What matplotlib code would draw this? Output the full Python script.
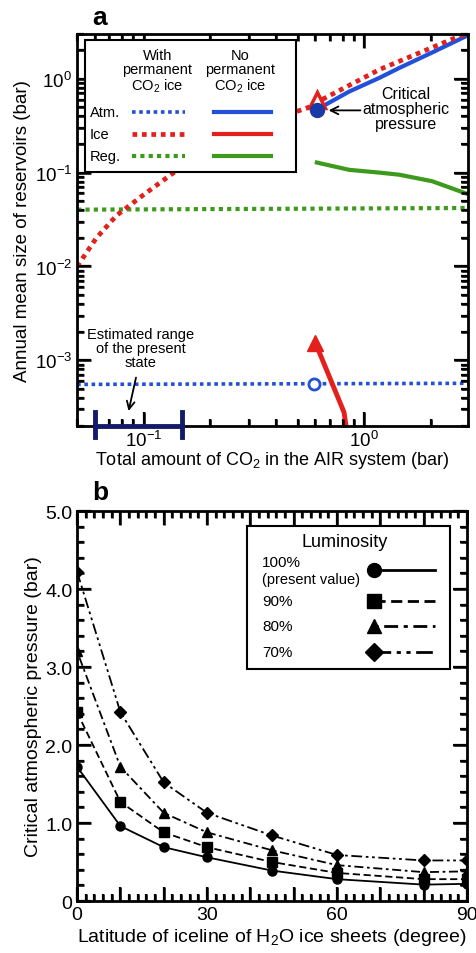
import matplotlib
matplotlib.use('Agg')
import matplotlib.pyplot as plt
from matplotlib.patches import Rectangle
from matplotlib.ticker import LogLocator, MultipleLocator, NullFormatter
import matplotlib.transforms as mtransforms

plt.rcParams['font.family'] = ['Liberation Sans', 'DejaVu Sans']
plt.rcParams['mathtext.fontset'] = 'custom'
plt.rcParams['mathtext.rm'] = 'Liberation Sans'
plt.rcParams['mathtext.it'] = 'Liberation Sans:italic'
plt.rcParams['mathtext.bf'] = 'Liberation Sans:bold'

# ---- panel a data (bar) ----
# with permanent CO2 ice
total_perm = [0.05, 3.0]
atm_perm = [5.55e-4, 5.7e-4]
reg_perm = [0.0403, 0.042]
total_ice = [0.05, 0.061, 0.0755, 0.1, 0.141, 0.237, 0.399, 0.565, 0.6, 1.17, 2.95]
ice_perm = [0.010, 0.020, 0.035, 0.058, 0.105, 0.209, 0.374, 0.50, 0.55, 1.25, 3.1]
# no permanent CO2 ice
total_noperm = [0.61, 0.855, 1.17, 1.44, 2.03, 2.95]
atm_noperm = [0.47, 0.73, 1.02, 1.30, 1.90, 2.90]
reg_noperm = [0.128, 0.107, 0.100, 0.095, 0.081, 0.059]
total_icefree = [0.6, 0.81, 0.83]
ice_noperm = [1.55e-3, 2.8e-4, 1.9e-4]
# critical point markers
crit_total = 0.61
crit_atm = 0.47
crit_ice = 0.60
present_atm_total = 0.59
present_atm = 5.6e-4
present_range = [0.06, 0.15]

# ---- panel b data ----
latitude = [0, 10, 20, 30, 45, 60, 80, 90]
p_100 = [1.72, 0.96, 0.69, 0.56, 0.39, 0.28, 0.21, 0.22]
p_90 = [2.42, 1.27, 0.88, 0.69, 0.50, 0.36, 0.28, 0.28]
p_80 = [3.20, 1.72, 1.13, 0.88, 0.65, 0.46, 0.37, 0.38]
p_70 = [4.22, 2.42, 1.52, 1.13, 0.84, 0.59, 0.52, 0.52]

blue = '#2350d8'
red = '#e3201b'
green = '#3d9a1c'
navy = '#141a6a'

fig = plt.figure(figsize=(4.76, 9.54), dpi=100)


def inside_ticks(axx, major=10, minor=5, lw=1.8):
    # tick marks on all four sides, at the positions given by the axis locators
    fig_w, fig_h = fig.get_size_inches()
    pos = axx.get_position()
    fx = 72.0 * fig_w * pos.width
    fy = 72.0 * fig_h * pos.height
    x0, x1 = sorted(axx.get_xlim())
    y0, y1 = sorted(axx.get_ylim())
    tx = mtransforms.blended_transform_factory(axx.transData, axx.transAxes)
    ty = mtransforms.blended_transform_factory(axx.transAxes, axx.transData)
    for locs, ln in ((axx.xaxis.get_majorticklocs(), major), (axx.xaxis.get_minorticklocs(), minor)):
        for v in locs:
            if x0 <= v <= x1:
                axx.plot([v, v], [0, ln / fy], transform=tx, color='black', lw=lw,
                         solid_capstyle='butt', clip_on=False, zorder=7)
                axx.plot([v, v], [1, 1 - ln / fy], transform=tx, color='black', lw=lw,
                         solid_capstyle='butt', clip_on=False, zorder=7)
    for locs, ln in ((axx.yaxis.get_majorticklocs(), major), (axx.yaxis.get_minorticklocs(), minor)):
        for v in locs:
            if y0 <= v <= y1:
                axx.plot([0, ln / fx], [v, v], transform=ty, color='black', lw=lw,
                         solid_capstyle='butt', clip_on=False, zorder=7)
                axx.plot([1, 1 - ln / fx], [v, v], transform=ty, color='black', lw=lw,
                         solid_capstyle='butt', clip_on=False, zorder=7)
    axx.set_xlim(x0, x1)
    axx.set_ylim(y0, y1)


# ================= panel a =================
ax = fig.add_axes([0.162, 0.5524, 0.821, 0.411])
ax.set_xscale('log')
ax.set_yscale('log')

dot = (0, (1, 1))
ax.plot(total_perm, reg_perm, color=green, lw=3, ls=dot)
ax.plot(total_perm, atm_perm, color=blue, lw=2.6, ls=dot)
ax.plot(total_noperm, atm_noperm, color=blue, lw=3)
ax.plot(total_ice, ice_perm, color=red, lw=3.4, ls=dot)
ax.plot(total_noperm, reg_noperm, color=green, lw=3)
ax.plot(total_icefree, ice_noperm, color=red, lw=3.5)
ax.plot(total_icefree[0], ice_noperm[0], marker='^', ms=12, color=red, ls='none')

ax.plot(crit_total, crit_ice, marker='^', ms=11, mfc='white', mec=red, mew=2.5, ls='none')
ax.plot(crit_total, crit_atm, marker='o', ms=10, color='#1a3aa8', ls='none', zorder=5)
ax.plot(present_atm_total, present_atm, marker='o', ms=8, mfc='white', mec=blue, mew=2, ls='none', zorder=5)

ax.set_xlim(0.05, 2.95)
ax.set_ylim(2e-4, 3.0)

# estimated range of the present state
trans = mtransforms.blended_transform_factory(ax.transData, ax.transAxes)
ax.plot(present_range, [0.0, 0.0], transform=trans, color=navy, lw=3.5, clip_on=False, zorder=8)
for xr in present_range:
    ax.plot([xr, xr], [-0.028, 0.035], transform=trans, color=navy, lw=3.5, clip_on=False, zorder=8)

ax.annotate('', xy=(0.085, 2.7e-4), xytext=(0.093, 7.0e-4),
            arrowprops=dict(arrowstyle='->', color='black', lw=1.3, mutation_scale=14))
ax.text(0.097, 1.35e-3, 'Estimated range\nof the present\nstate', ha='center', va='center',
        fontsize=10.5, linespacing=1.0)

ax.annotate('', xy=(0.67, 0.46), xytext=(0.99, 0.46),
            arrowprops=dict(arrowstyle='->', color='black', lw=1.3, mutation_scale=14))
ax.text(1.55, 0.48, 'Critical\natmospheric\npressure', ha='center', va='center',
        fontsize=11.5, linespacing=1.0)

ax.xaxis.set_major_locator(LogLocator(base=10, numticks=10))
ax.xaxis.set_minor_locator(LogLocator(base=10, subs=range(2, 10), numticks=20))
ax.yaxis.set_major_locator(LogLocator(base=10, numticks=10))
ax.yaxis.set_minor_locator(LogLocator(base=10, subs=range(2, 10), numticks=20))
ax.xaxis.set_minor_formatter(NullFormatter())
ax.yaxis.set_minor_formatter(NullFormatter())
ax.tick_params(which='both', direction='in', top=True, right=True, width=1.6,
               color='black', labelsize=13.5)
ax.tick_params(which='major', length=10)
ax.tick_params(which='minor', length=5)
ax.tick_params(axis='x', which='major', pad=3)
for s in ax.spines.values():
    s.set_linewidth(2)
ax.set_xlabel('Total amount of CO$_2$ in the AIR system (bar)', fontsize=13, labelpad=-1)
ax.set_ylabel('Annual mean size of reservoirs (bar)', fontsize=13.5, labelpad=3)
fig.text(0.21, 0.981, 'a', fontsize=19, fontweight='bold', ha='center', va='center')
inside_ticks(ax)

# legend (drawn by hand)
ta = ax.transAxes
ax.add_patch(Rectangle((0.02, 0.648), 0.54, 0.337, transform=ta, facecolor='white',
                       edgecolor='black', lw=1.5, zorder=8))
ax.text(0.205, 0.905, 'With\npermanent\nCO$_2$ ice', transform=ta, ha='center', va='center',
        fontsize=10.5, linespacing=1.0, zorder=9)
ax.text(0.418, 0.905, 'No\npermanent\nCO$_2$ ice', transform=ta, ha='center', va='center',
        fontsize=10.5, linespacing=1.0, zorder=9)
rows = [('Atm.', blue, 0.802, 2.6), ('Ice', red, 0.746, 3.4), ('Reg.', green, 0.688, 3)]
for name, c, yy, lw in rows:
    ax.text(0.032, yy, name, transform=ta, ha='left', va='center', fontsize=10.5, zorder=9)
    ax.plot([0.14, 0.275], [yy, yy], transform=ta, color=c, lw=lw, ls=dot, zorder=9)
    ax.plot([0.35, 0.495], [yy, yy], transform=ta, color=c, lw=3, zorder=9)

# ================= panel b =================
bx = fig.add_axes([0.162, 0.0545, 0.819, 0.4088])
bx.plot(latitude, p_100, color='black', lw=1.3, marker='o', ms=6.5)
bx.plot(latitude, p_90, color='black', lw=1.3, marker='s', ms=6.5, ls=(0, (4, 2)))
bx.plot(latitude, p_80, color='black', lw=1.3, marker='^', ms=6.5, ls=(0, (1.5, 2, 5, 2)))
bx.plot(latitude, p_70, color='black', lw=1.3, marker='D', ms=6, ls=(0, (6, 2, 1.5, 2, 1.5, 2)))
bx.set_xlim(0, 90)
bx.set_ylim(0, 5)
bx.set_xticks(range(0, 91, 10))
bx.set_xticklabels(['0', '', '', '30', '', '', '60', '', '', '90'])
bx.xaxis.set_minor_locator(MultipleLocator(2))
bx.set_yticks([0, 1, 2, 3, 4, 5])
bx.set_yticklabels(['0', '1.0', '2.0', '3.0', '4.0', '5.0'])
bx.yaxis.set_minor_locator(MultipleLocator(0.2))
bx.tick_params(which='both', direction='in', top=True, right=True, width=1.6,
               color='black', labelsize=14)
bx.tick_params(which='major', length=10)
bx.tick_params(which='minor', length=5)
for s in bx.spines.values():
    s.set_linewidth(2)
bx.set_xlabel('Latitude of iceline of H$_2$O ice sheets (degree)', fontsize=14, labelpad=2)
bx.set_ylabel('Critical atmospheric pressure (bar)', fontsize=14, labelpad=2)
fig.text(0.21, 0.483, 'b', fontsize=19, fontweight='bold', ha='center', va='center')
inside_ticks(bx)

tb = bx.transAxes
bx.add_patch(Rectangle((0.436, 0.595), 0.52, 0.367, transform=tb, facecolor='white',
                       edgecolor='black', lw=1.5, zorder=8))
bx.text(0.687, 0.923, 'Luminosity', transform=tb, ha='center', va='center', fontsize=13, zorder=9)
leg_rows = [('100%', 0.869, 0.848, 'o', '-', 10),
            ('90%', 0.769, 0.769, 's', (0, (4, 2)), 10),
            ('80%', 0.705, 0.705, '^', (0, (1.5, 2, 5, 2)), 10),
            ('70%', 0.638, 0.638, 'D', (0, (6, 2, 1.5, 2, 1.5, 2)), 9)]
for name, ty, my, mk, ls, ms in leg_rows:
    bx.text(0.474, ty, name, transform=tb, ha='left', va='center', fontsize=11, zorder=9)
    bx.plot([0.762, 0.918], [my, my], transform=tb, color='black', lw=2, ls=ls, zorder=9)
    bx.plot([0.762], [my], transform=tb, color='black', marker=mk, ms=ms, ls='none', zorder=10)
bx.text(0.474, 0.826, '(present value)', transform=tb, ha='left', va='center', fontsize=10.5, zorder=9)

fig.savefig('out.png', dpi=100)
